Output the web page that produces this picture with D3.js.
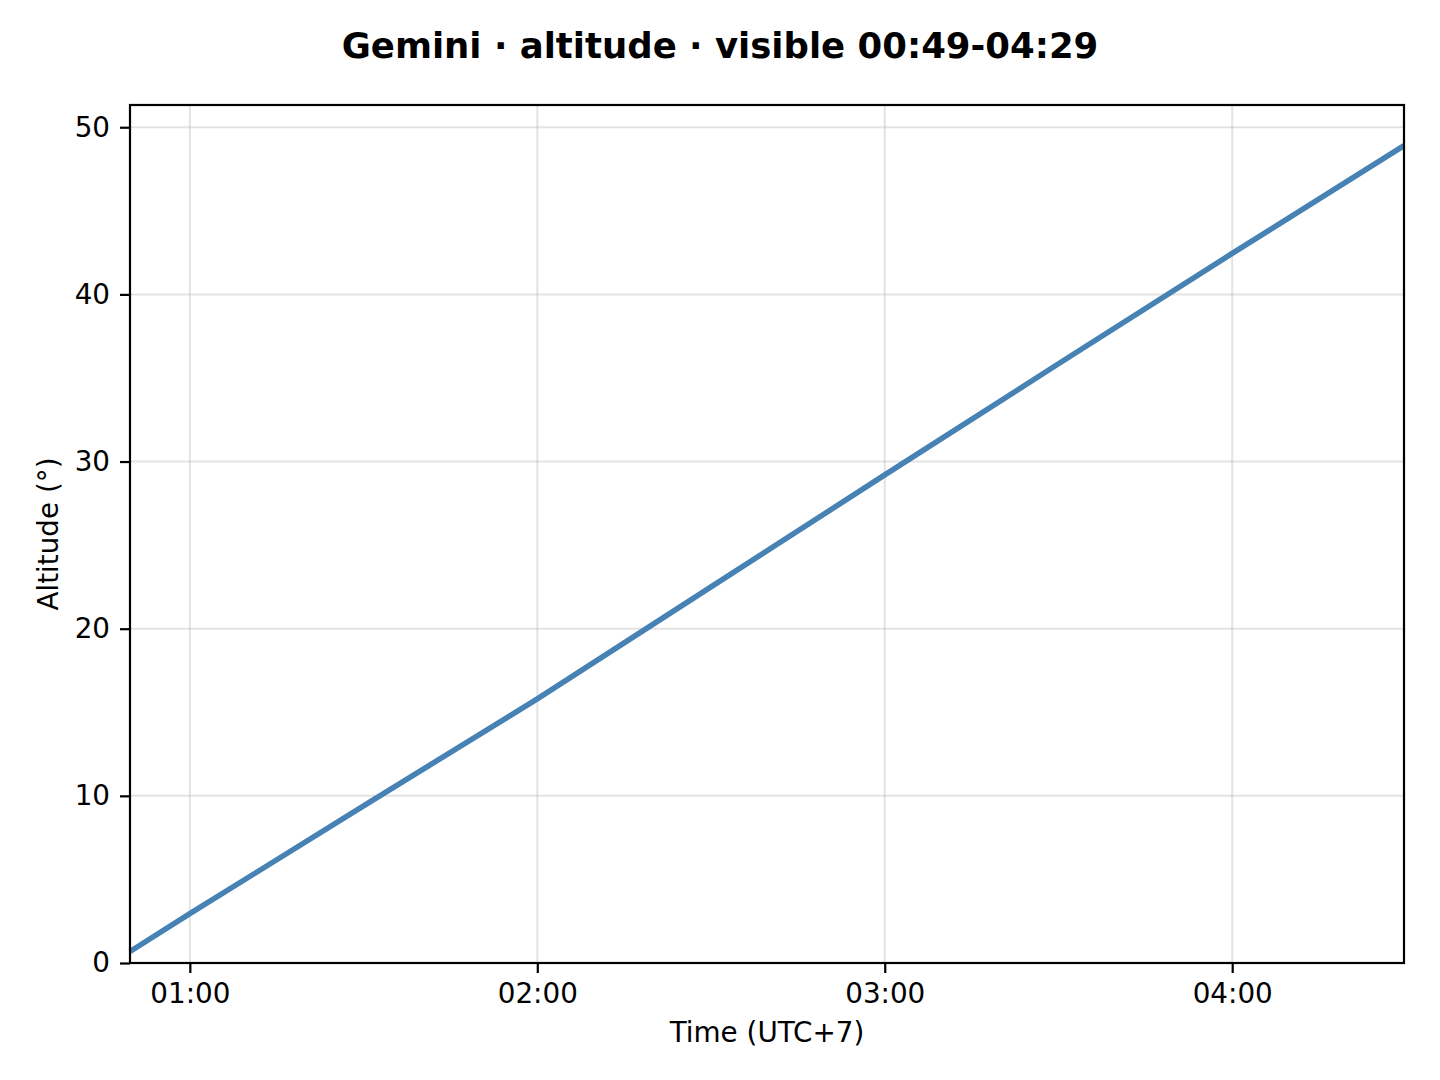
<!DOCTYPE html>
<html>
<head>
<meta charset="utf-8">
<script src="https://cdn.jsdelivr.net/npm/d3@7"></script>
<style>
  html, body { margin: 0; padding: 0; background: #fff; }
  svg text { font-family: "DejaVu Sans", sans-serif; fill: #000; }
</style>
</head>
<body>
<div id="chart"></div>
<script>
// readings, local time UTC+7
const times = ["00:49:40", "01:00:00", "01:30:00", "02:00:00", "02:30:00", "03:00:00", "03:30:00", "04:00:00", "04:29:40"];
const altitudes = [0.69, 2.95, 9.4, 15.8, 22.5, 29.2, 35.85, 42.45, 48.9];
const yTicks = [0, 10, 20, 30, 40, 50];
const xTickLabels = ["01:00", "02:00", "03:00", "04:00"];

const titleText = "Gemini \u00b7 altitude \u00b7 visible 00:49-04:29";
const xAxisLabel = "Time (UTC+7)";
const yAxisLabel = "Altitude (\u00b0)";

function init() {
    var w = 1440;
    var h = 1080;
    var margin = { top: 105, right: 36, bottom: 117, left: 130 };

    var parse = d3.timeParse("%Y-%m-%d %H:%M:%S");
    var data = times.map((t, i) => ({ t: parse("2024-01-01 " + t), alt: altitudes[i] }));
    var tickDates = xTickLabels.map(s => parse("2024-01-01 " + s + ":00"));

    var svg = d3.select("#chart").append("svg")
        .attr("width", w)
        .attr("height", h);

    var x = d3.scaleTime()
        .domain(d3.extent(data, d => d.t))
        .range([margin.left, w - margin.right]);

    var y = d3.scaleLinear()
        .domain([0, 51.33])
        .range([h - margin.bottom, margin.top]);

    // grid
    svg.append("g").selectAll("line.vgrid")
        .data(tickDates).enter().append("line")
        .attr("x1", d => x(d)).attr("x2", d => x(d))
        .attr("y1", margin.top).attr("y2", h - margin.bottom)
        .attr("stroke", "#b0b0b0").attr("stroke-opacity", 0.35).attr("stroke-width", 2);

    svg.append("g").selectAll("line.hgrid")
        .data(yTicks).enter().append("line")
        .attr("x1", margin.left).attr("x2", w - margin.right)
        .attr("y1", d => y(d)).attr("y2", d => y(d))
        .attr("stroke", "#b0b0b0").attr("stroke-opacity", 0.35).attr("stroke-width", 2);

    // altitude curve
    var line = d3.line().x(d => x(d.t)).y(d => y(d.alt));
    svg.append("path")
        .datum(data)
        .attr("fill", "none")
        .attr("stroke", "#4682b4")
        .attr("stroke-width", 5.5)
        .attr("d", line);

    // axes
    var xAxis = d3.axisBottom(x)
        .tickValues(tickDates)
        .tickFormat(d3.timeFormat("%H:%M"))
        .tickSize(10)
        .tickPadding(10);
    var gx = svg.append("g")
        .attr("transform", `translate(0,${h - margin.bottom})`)
        .call(xAxis);

    var yAxis = d3.axisLeft(y)
        .tickValues(yTicks)
        .tickSize(10)
        .tickPadding(10);
    var gy = svg.append("g")
        .attr("transform", `translate(${margin.left},0)`)
        .call(yAxis);

    [gx, gy].forEach(g => {
        g.select(".domain").remove();
        g.selectAll(".tick line").attr("stroke", "#000").attr("stroke-width", 2.2);
        g.selectAll(".tick text").style("font-size", "27.8px").style("font-family", "DejaVu Sans");
    });

    // frame
    svg.append("rect")
        .attr("x", margin.left).attr("y", margin.top)
        .attr("width", w - margin.left - margin.right)
        .attr("height", h - margin.top - margin.bottom)
        .attr("fill", "none").attr("stroke", "#000").attr("stroke-width", 2.2);

    // labels
    svg.append("text")
        .attr("x", 720)
        .attr("y", 58)
        .style("text-anchor", "middle")
        .style("font-size", "35.5px")
        .style("font-weight", "bold")
        .text(titleText);

    svg.append("text")
        .attr("x", (margin.left + w - margin.right) / 2)
        .attr("y", 1042)
        .style("text-anchor", "middle")
        .style("font-size", "27.8px")
        .text(xAxisLabel);

    svg.append("text")
        .attr("transform", "rotate(-90)")
        .attr("x", -(margin.top + h - margin.bottom) / 2)
        .attr("y", 58)
        .style("text-anchor", "middle")
        .style("font-size", "27.8px")
        .text(yAxisLabel);
}

window.onload = init;
</script>
</body>
</html>
